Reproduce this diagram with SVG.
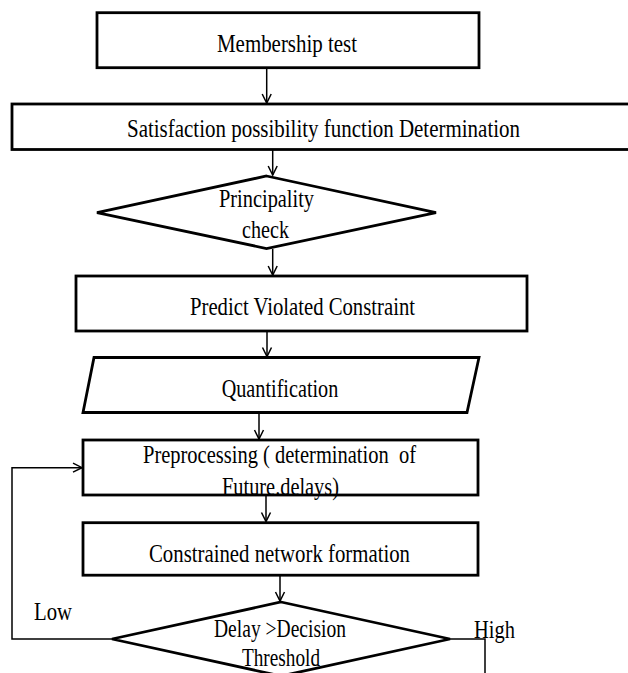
<svg xmlns="http://www.w3.org/2000/svg" width="628" height="673" viewBox="0 0 628 673">
<style>
.box{fill:#fff;stroke:#000;stroke-width:2.8}
.t{font-family:'Liberation Serif','Times New Roman',Tinos,'DejaVu Serif',serif;font-size:26px;fill:#000;white-space:pre}
.c{fill:none;stroke:#000;stroke-width:1.5}
</style>
<defs>
<marker id="ah" markerWidth="12" markerHeight="12" refX="10" refY="6" orient="auto" markerUnits="userSpaceOnUse">
<path d="M1,1.5 L10,6 L1,10.5" fill="none" stroke="#000" stroke-width="1.5"/>
</marker>
</defs>
<rect width="628" height="673" fill="#fff"/>
<g id="connectors">
<line class="c" x1="266.7" y1="68" x2="266.7" y2="103" marker-end="url(#ah)"/>
<line class="c" x1="272.7" y1="150" x2="272.7" y2="175" marker-end="url(#ah)"/>
<line class="c" x1="272.7" y1="249" x2="272.7" y2="275" marker-end="url(#ah)"/>
<line class="c" x1="267" y1="331" x2="267" y2="356.5" marker-end="url(#ah)"/>
<line class="c" x1="259" y1="413" x2="259" y2="439" marker-end="url(#ah)"/>
<line class="c" x1="266" y1="495" x2="266" y2="521.5" marker-end="url(#ah)"/>
<line class="c" x1="280" y1="575.5" x2="280" y2="601" marker-end="url(#ah)"/>
<polyline class="c" points="112,639 12,639 12,467.7 82,467.7" marker-end="url(#ah)"/>
<polyline class="c" points="450,639 485,639 485,673"/>
</g>
<g id="membership">
<rect class="box" x="97" y="12.7" width="382" height="55"/>
<text class="t" x="217" y="52.3" textLength="140" lengthAdjust="spacingAndGlyphs">Membership test</text>
</g>
<g id="satisfaction">
<rect class="box" x="12" y="104" width="624" height="45.5"/>
<text class="t" x="127" y="137" textLength="393" lengthAdjust="spacingAndGlyphs">Satisfaction possibility function Determination</text>
</g>
<g id="principality">
<polygon class="box" points="266.5,176 436,212.7 266.5,248.5 97,212.7"/>
<text class="t" x="219" y="206.7" textLength="95" lengthAdjust="spacingAndGlyphs">Principality</text>
<text class="t" x="242" y="238" textLength="47" lengthAdjust="spacingAndGlyphs">check</text>
</g>
<g id="predict">
<rect class="box" x="76" y="276" width="451" height="55"/>
<text class="t" x="190" y="315" textLength="225" lengthAdjust="spacingAndGlyphs">Predict Violated Constraint</text>
</g>
<g id="quantification">
<polygon class="box" points="94,357.5 479,357.5 467,412.5 83,412.5"/>
<text class="t" x="221.7" y="397" textLength="116.6" lengthAdjust="spacingAndGlyphs">Quantification</text>
</g>
<g id="preprocessing">
<rect class="box" x="83" y="440" width="395" height="55"/>
<text class="t" x="143" y="463" textLength="273" lengthAdjust="spacingAndGlyphs">Preprocessing ( determination  of</text>
<text class="t" x="222" y="495" textLength="117" lengthAdjust="spacingAndGlyphs">Future.delays)</text>
</g>
<g id="constrained">
<rect class="box" x="83" y="522.7" width="395" height="52.5"/>
<text class="t" x="149" y="562" textLength="261" lengthAdjust="spacingAndGlyphs">Constrained network formation</text>
</g>
<g id="decision">
<polygon class="box" points="281,602 450,639 281,676 112,639"/>
<text class="t" x="214" y="637" textLength="132" lengthAdjust="spacingAndGlyphs">Delay &gt;Decision</text>
<text class="t" x="242" y="666" textLength="78" lengthAdjust="spacingAndGlyphs">Threshold</text>
</g>
<g id="labels">
<text class="t" x="34" y="620" textLength="38" lengthAdjust="spacingAndGlyphs">Low</text>
<text class="t" x="474" y="638" textLength="41" lengthAdjust="spacingAndGlyphs">High</text>
</g>
</svg>
